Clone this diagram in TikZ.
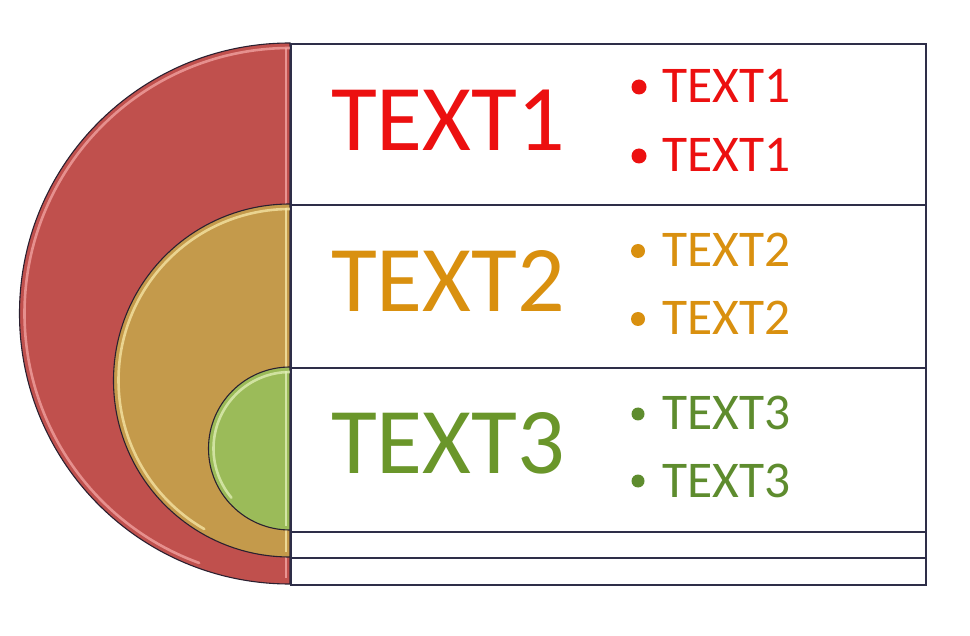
\documentclass[tikz,border=0pt]{standalone}
\usepackage{fontspec}
\setmainfont{Carlito}
\definecolor{discred}{HTML}{C0504D}
\definecolor{discorange}{HTML}{C49A4B}
\definecolor{discgreen}{HTML}{9BBB59}
\definecolor{hired}{HTML}{F4A6A4}
\definecolor{hiorange}{HTML}{F8E8A8}
\definecolor{higreen}{HTML}{E2F0B8}
\definecolor{txtred}{HTML}{EC1010}
\definecolor{txtorange}{HTML}{D9900F}
\definecolor{txtgreen}{HTML}{6A962A}
\definecolor{txtgreenb}{HTML}{5E8C2E}
\definecolor{framec}{HTML}{2E2E48}
\definecolor{outl}{HTML}{2A2030}
\begin{document}
\begin{tikzpicture}[x=1pt,y=-1pt,
  rowbox/.style={draw=framec, line width=1.6pt, fill=white, anchor=north west, inner sep=0pt, minimum width=635pt},
  bigtxt/.style={anchor=base west, inner sep=0pt, font=\fontsize{94}{94}\selectfont},
  smalltxt/.style={anchor=base west, inner sep=0pt, font=\fontsize{51.5}{52}\selectfont},
  bulletdot/.style={circle, inner sep=0pt, minimum size=#1},
  discline/.style={draw=outl, line width=1.1pt},
  hiarc/.style={line width=2.6pt, line cap=round, opacity=0.75}
]
\useasboundingbox (0,0) rectangle (970,636);
% discs
\filldraw[fill=discred, discline] (290,43) arc[start angle=270, end angle=90, radius=270.5] -- cycle;
\draw[hired, hiarc] (290,48) arc[start angle=270, end angle=110, radius=265.5];
\draw[hired, line width=2.5pt, opacity=0.8] (286,48) -- (286,578);
\filldraw[fill=discorange, discline] (290,204) arc[start angle=270, end angle=90, radius=176.5] -- cycle;
\draw[hiorange, hiarc] (290,209) arc[start angle=270, end angle=120, radius=171.5];
\draw[hiorange, line width=2.5pt, opacity=0.8] (286,208) -- (286,552);
\filldraw[fill=discgreen, discline] (290,367) arc[start angle=270, end angle=90, radius=81.5] -- cycle;
\draw[higreen, hiarc] (290,372) arc[start angle=270, end angle=140, radius=76.5];
\draw[higreen, line width=2.5pt, opacity=0.8] (286,371) -- (286,526);
% rows
\node[rowbox, minimum height=161pt] (row1) at (290,43) {};
\node[rowbox, minimum height=163pt] (row2) at (290,204) {};
\node[rowbox, minimum height=164pt] (row3) at (290,367) {};
\node[rowbox, minimum height=26pt] (row4) at (290,531) {};
\node[rowbox, minimum height=27pt] (row5) at (290,557) {};
% big labels
\node[bigtxt, text=txtred] (big1) at (331,151) {TEXT1};
\node[bigtxt, text=txtorange] (big2) at (331,312) {TEXT2};
\node[bigtxt, text=txtgreen] (big3) at (331,473) {TEXT3};
% bullets
\node[bulletdot=15pt, fill=txtred] (d1a) at (639,87) {};
\node[smalltxt, text=txtred] (t1a) at (662,103) {TEXT1};
\node[bulletdot=15pt, fill=txtred] (d1b) at (639,156) {};
\node[smalltxt, text=txtred] (t1b) at (662,172) {TEXT1};
\node[bulletdot=14pt, fill=txtorange] (d2a) at (638,251) {};
\node[smalltxt, text=txtorange] (t2a) at (662,267) {TEXT2};
\node[bulletdot=14pt, fill=txtorange] (d2b) at (638,319) {};
\node[smalltxt, text=txtorange] (t2b) at (662,335) {TEXT2};
\node[bulletdot=13pt, fill=txtgreenb] (d3a) at (638,414) {};
\node[smalltxt, text=txtgreenb] (t3a) at (662,430) {TEXT3};
\node[bulletdot=13pt, fill=txtgreenb] (d3b) at (638,481) {};
\node[smalltxt, text=txtgreenb] (t3b) at (662,497) {TEXT3};
\end{tikzpicture}
\end{document}
